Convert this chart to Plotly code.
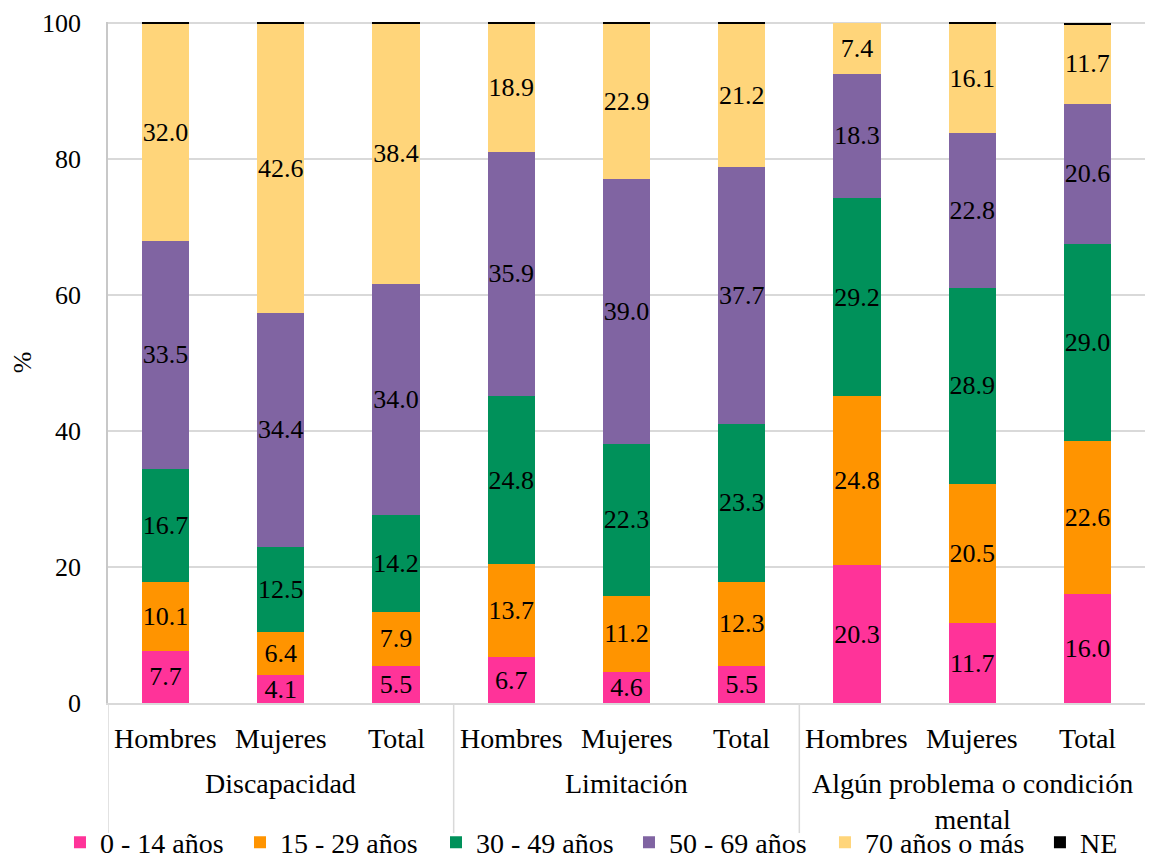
import plotly.graph_objects as go

group_names = ["Discapacidad", "Limitación", "Algún problema o condición<br>mental"]
subcat_names = ["Hombres", "Mujeres", "Total"]
subcats = subcat_names * 3

series_names = ["0 - 14 años", "15 - 29 años", "30 - 49 años", "50 - 69 años", "70 años o más", "NE"]
v0_14 = [7.7, 4.1, 5.5, 6.7, 4.6, 5.5, 20.3, 11.7, 16.0]
v15_29 = [10.1, 6.4, 7.9, 13.7, 11.2, 12.3, 24.8, 20.5, 22.6]
v30_49 = [16.7, 12.5, 14.2, 24.8, 22.3, 23.3, 29.2, 28.9, 29.0]
v50_69 = [33.5, 34.4, 34.0, 35.9, 39.0, 37.7, 18.3, 22.8, 20.6]
v70 = [32.0, 42.6, 38.4, 18.9, 22.9, 21.2, 7.4, 16.1, 11.7]
vNE = [0.2, 0.2, 0.2, 0.2, 0.2, 0.2, 0.0, 0.2, 0.2]

colors = ["#FF3399", "#FF9400", "#00915A", "#8064A2", "#FFD57A", "#000000"]
values = [v0_14, v15_29, v30_49, v50_69, v70, vNE]

# legend entry anchor positions (fraction of plot width), one legend box per series
legend_x = [-0.0463, 0.1273, 0.3163, 0.5024, 0.6914, 0.8987]

FONT = "Liberation Serif, Times New Roman, serif"
FS_LBL = 26
FS_AX = 28
FS_TICK = 26

xpos = list(range(len(subcats)))

fig = go.Figure()
legend_layout = {}
for k, (name, vals, col) in enumerate(zip(series_names, values, colors)):
    show_text = name != "NE"
    lid = "legend" if k == 0 else f"legend{k + 1}"
    fig.add_trace(go.Bar(
        x=xpos, y=vals, name=name,
        marker=dict(color=col, line=dict(width=0)),
        text=[f"{v:.1f}" for v in vals] if show_text else None,
        textposition="inside" if show_text else "none",
        insidetextanchor="middle",
        textangle=0,
        constraintext="none",
        textfont=dict(family=FONT, size=FS_LBL, color="black"),
        width=0.41,
        legend=lid,
    ))
    legend_layout[lid] = dict(orientation="h", x=legend_x[k], xanchor="left", y=-0.205,
                              yanchor="middle", font=dict(family=FONT, size=FS_AX),
                              itemwidth=30, bgcolor="rgba(0,0,0,0)")

# category axis labels
for i, s in enumerate(subcats):
    fig.add_annotation(x=i, y=-0.0514, xref="x", yref="paper", text=s, showarrow=False,
                       yanchor="middle", font=dict(family=FONT, size=FS_AX, color="black"))
for g, name in enumerate(group_names):
    fig.add_annotation(x=g * 3 + 1, y=-0.092, xref="x", yref="paper", text=name, showarrow=False,
                       yanchor="top", font=dict(family=FONT, size=FS_AX, color="black"))
for g in range(len(group_names)):
    xd = g * 3 - 0.5
    fig.add_shape(type="line", xref="x", yref="paper", x0=xd, x1=xd, y0=0, y1=-0.191,
                  line=dict(color="#D9D9D9", width=1.5))

fig.update_layout(
    barmode="stack",
    width=1145, height=853,
    paper_bgcolor="white", plot_bgcolor="white",
    font=dict(family=FONT, size=FS_AX, color="black"),
    margin=dict(l=100, r=8, t=14, b=158, autoexpand=False),
    showlegend=True,
    **legend_layout,
)
fig.update_yaxes(range=[0, 100.2], tickvals=[0, 20, 40, 60, 80, 100], showgrid=True,
                 gridcolor="#D9D9D9", gridwidth=1.5,
                 showline=True, linecolor="#C8C8C8", linewidth=1.5, ticks="",
                 ticklabelstandoff=20, tickfont=dict(family=FONT, size=FS_TICK),
                 title=dict(text="%", font=dict(family=FONT, size=FS_TICK), standoff=8),
                 zeroline=False, automargin=False)
fig.update_xaxes(range=[-0.5, len(subcats) - 0.5], showline=True, linecolor="#D9D9D9", linewidth=1.5,
                 showticklabels=False, ticks="", showgrid=False, zeroline=False)

fig.write_html("out.html")
